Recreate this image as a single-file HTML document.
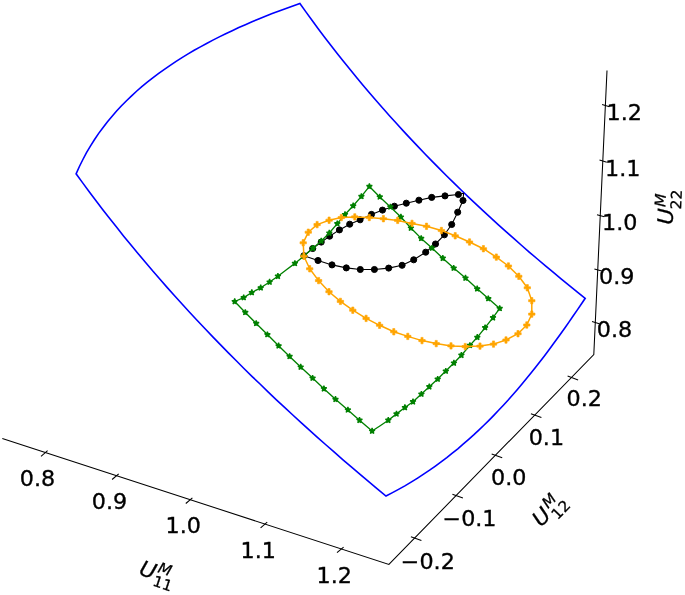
<!DOCTYPE html>
<html><head><meta charset="utf-8"><title>plot</title>
<style>html,body{margin:0;padding:0;background:#fff}svg{display:block}</style></head>
<body>
<svg width="685" height="595" viewBox="0 0 685 595">
<defs>
<path id="st" d="M0.00,-3.00 L-0.67,-0.93 L-2.85,-0.93 L-1.09,0.35 L-1.76,2.43 L-0.00,1.15 L1.76,2.43 L1.09,0.35 L2.85,-0.93 L0.67,-0.93Z" fill="#008000" stroke="#008000" stroke-width="1.3" stroke-linejoin="bevel"/>
<path id="pl" d="M-1.07,-3.20 L1.07,-3.20 L1.07,-1.07 L3.20,-1.07 L3.20,1.07 L1.07,1.07 L1.07,3.20 L-1.07,3.20 L-1.07,1.07 L-3.20,1.07 L-3.20,-1.07 L-1.07,-1.07Z" fill="#ffa500" stroke="#ffa500" stroke-width="0.6" stroke-linejoin="miter"/>
<circle id="ci" r="3.05" fill="#000" stroke="#000" stroke-width="1"/>
</defs>
<rect width="685" height="595" fill="#fff"/>
<g stroke="#000" stroke-width="1.05" fill="none" stroke-linecap="butt">
<polyline points="2.3,438.5 388.9,564.4 593.8,354.5 607.0,70.6"/>
<line x1="41.0" y1="456.3" x2="47.6" y2="450.7"/>
<line x1="112.1" y1="479.5" x2="118.7" y2="473.8"/>
<line x1="185.8" y1="503.5" x2="192.4" y2="497.8"/>
<line x1="260.6" y1="527.9" x2="267.2" y2="522.2"/>
<line x1="337.0" y1="552.7" x2="343.6" y2="547.1"/>
<line x1="410.9" y1="536.7" x2="421.4" y2="540.5"/>
<line x1="452.4" y1="494.2" x2="462.9" y2="498.0"/>
<line x1="491.7" y1="453.9" x2="502.2" y2="457.7"/>
<line x1="530.9" y1="413.7" x2="541.4" y2="417.5"/>
<line x1="567.6" y1="376.1" x2="578.1" y2="379.9"/>
<line x1="592.0" y1="321.6" x2="599.3" y2="323.7"/>
<line x1="594.4" y1="269.0" x2="601.7" y2="271.1"/>
<line x1="597.0" y1="214.7" x2="604.3" y2="216.8"/>
<line x1="599.5" y1="160.1" x2="606.8" y2="162.2"/>
<line x1="602.1" y1="104.6" x2="609.4" y2="106.7"/>
</g>
<g font-family="'DejaVu Sans', 'Liberation Sans', sans-serif" font-size="21.20" fill="#000" stroke="#000" stroke-width="0.32" text-anchor="middle">
<text transform="translate(37.5,478.0) scale(1.050,1)" x="0" y="7.73">0.8</text>
<text transform="translate(109.5,501.6) scale(1.050,1)" x="0" y="7.73">0.9</text>
<text transform="translate(183.3,525.5) scale(1.050,1)" x="0" y="7.73">1.0</text>
<text transform="translate(258.2,550.1) scale(1.050,1)" x="0" y="7.73">1.1</text>
<text transform="translate(334.2,575.5) scale(1.050,1)" x="0" y="7.73">1.2</text>
<text transform="translate(427.8,561.7) scale(1.050,1)" x="0" y="7.73">−0.2</text>
<text transform="translate(469.5,517.9) scale(1.050,1)" x="0" y="7.73">−0.1</text>
<text transform="translate(508.7,477.5) scale(1.050,1)" x="0" y="7.73">0.0</text>
<text transform="translate(546.4,437.1) scale(1.050,1)" x="0" y="7.73">0.1</text>
<text transform="translate(584.2,398.4) scale(1.050,1)" x="0" y="7.73">0.2</text>
<text transform="translate(614.5,329.6) scale(1.050,1)" x="0" y="7.73">0.8</text>
<text transform="translate(616.7,275.9) scale(1.050,1)" x="0" y="7.73">0.9</text>
<text transform="translate(619.8,222.4) scale(1.050,1)" x="0" y="7.73">1.0</text>
<text transform="translate(622.7,168.3) scale(1.050,1)" x="0" y="7.73">1.1</text>
<text transform="translate(624.2,112.2) scale(1.050,1)" x="0" y="7.73">1.2</text>
</g>
<g transform="translate(157.0,574.5) rotate(18.2) scale(1.050,1)" font-family="'DejaVu Sans', 'Liberation Sans', sans-serif" fill="#000" stroke="#000" stroke-width="0.26"><text x="-17.20" y="5.60" font-size="21.20" font-style="italic">U</text><text x="-0.68" y="-2.53" font-size="14.84" font-style="italic">M</text><text x="-1.58" y="11.96" font-size="14.84">11</text></g>
<g transform="translate(550.3,510.2) rotate(-45.8) scale(1.050,1)" font-family="'DejaVu Sans', 'Liberation Sans', sans-serif" fill="#000" stroke="#000" stroke-width="0.26"><text x="-18.20" y="5.60" font-size="21.20" font-style="italic">U</text><text x="-0.68" y="-2.53" font-size="14.84" font-style="italic">M</text><text x="-2.18" y="12.36" font-size="14.84">12</text></g>
<g transform="translate(667.7,206.7) rotate(-87.2) scale(1.050,1)" font-family="'DejaVu Sans', 'Liberation Sans', sans-serif" fill="#000" stroke="#000" stroke-width="0.26"><text x="-17.20" y="5.60" font-size="21.20" font-style="italic">U</text><text x="-0.68" y="-2.53" font-size="14.84" font-style="italic">M</text><text x="-2.18" y="13.36" font-size="14.84">22</text></g>
<polygon points="76.1,173.8 79.4,166.5 82.9,159.5 86.5,152.7 90.4,146.1 94.4,139.8 98.5,133.6 102.9,127.7 107.3,121.9 111.9,116.4 116.6,111.0 121.5,105.8 126.5,100.7 131.6,95.8 136.8,91.0 142.1,86.4 147.6,81.9 153.1,77.6 158.7,73.4 164.4,69.3 170.2,65.3 176.1,61.4 182.0,57.6 188.1,53.9 194.2,50.3 200.4,46.9 206.6,43.5 212.9,40.1 219.3,36.9 225.7,33.7 232.2,30.7 238.8,27.6 245.4,24.7 252.0,21.8 258.7,19.0 265.4,16.3 272.2,13.6 279.1,11.0 286.0,8.4 292.9,5.9 299.9,3.5 305.9,11.9 312.0,20.3 318.2,28.7 324.4,36.9 330.6,45.1 337.0,53.2 343.4,61.3 349.9,69.3 356.4,77.3 363.0,85.2 369.6,93.0 376.3,100.8 383.1,108.5 389.9,116.2 396.8,123.8 403.7,131.4 410.7,138.9 417.8,146.4 424.8,153.8 432.0,161.1 439.2,168.4 446.5,175.7 453.8,182.9 461.1,190.0 468.5,197.1 476.0,204.2 483.5,211.2 491.1,218.1 498.7,225.1 506.3,231.9 514.0,238.7 521.7,245.5 529.5,252.3 537.4,259.0 545.2,265.6 553.1,272.2 561.1,278.8 569.1,285.3 577.1,291.8 585.2,298.3 581.2,304.2 577.2,310.1 573.1,316.0 569.1,321.9 565.0,327.7 560.9,333.5 556.7,339.3 552.5,345.0 548.3,350.7 544.0,356.4 539.7,362.0 535.4,367.6 531.0,373.1 526.5,378.6 522.0,384.0 517.4,389.4 512.8,394.7 508.2,400.0 503.4,405.2 498.6,410.3 493.8,415.4 488.9,420.4 483.9,425.3 478.8,430.1 473.7,434.9 468.4,439.6 463.1,444.2 457.8,448.8 452.3,453.2 446.8,457.6 441.1,461.9 435.4,466.1 429.6,470.2 423.6,474.2 417.6,478.1 411.5,481.9 405.3,485.6 399.0,489.1 392.5,492.6 386.0,496.0 377.3,488.8 368.7,481.6 360.1,474.4 351.6,467.1 343.0,459.8 334.6,452.4 326.1,445.0 317.7,437.6 309.4,430.1 301.1,422.6 292.8,415.0 284.6,407.4 276.4,399.8 268.3,392.1 260.3,384.3 252.2,376.6 244.2,368.7 236.3,360.8 228.4,352.9 220.6,344.9 212.8,336.9 205.1,328.8 197.5,320.7 189.8,312.5 182.3,304.3 174.8,296.0 167.3,287.6 160.0,279.2 152.6,270.8 145.4,262.2 138.2,253.7 131.0,245.0 123.9,236.4 116.9,227.6 109.9,218.8 103.0,209.9 96.2,201.0 89.4,192.0 82.7,182.9 76.1,173.8" fill="none" stroke="#0000ff" stroke-width="1.60" stroke-linejoin="miter"/>
<polyline points="303.9,255.7 312.7,248.5 321.2,242.1 329.6,236.2 339.4,229.9 349.7,224.2 360.1,219.8 371.5,214.4 382.5,210.1 394.4,206.2 406.3,203.2 418.9,200.2 431.7,197.4 445.0,195.9 458.4,194.5 463.6,193.3 463.0,200.5 457.7,212.2 451.7,224.5 444.4,234.8 435.5,244.0 425.7,252.2 413.7,259.8 402.1,265.3 388.7,268.1 374.4,269.5 360.3,269.5 346.3,267.9 332.0,264.9 318.0,260.5 303.9,255.7" fill="none" stroke="#000" stroke-width="1.10" stroke-linejoin="round"/>
<g><use href="#ci" x="303.9" y="255.7"/><use href="#ci" x="312.7" y="248.5"/><use href="#ci" x="321.2" y="242.1"/><use href="#ci" x="329.6" y="236.2"/><use href="#ci" x="339.4" y="229.9"/><use href="#ci" x="349.7" y="224.2"/><use href="#ci" x="360.1" y="219.8"/><use href="#ci" x="371.5" y="214.4"/><use href="#ci" x="382.5" y="210.1"/><use href="#ci" x="394.4" y="206.2"/><use href="#ci" x="406.3" y="203.2"/><use href="#ci" x="418.9" y="200.2"/><use href="#ci" x="431.7" y="197.4"/><use href="#ci" x="445.0" y="195.9"/><use href="#ci" x="458.4" y="194.5"/><use href="#ci" x="463.0" y="200.5"/><use href="#ci" x="457.7" y="212.2"/><use href="#ci" x="451.7" y="224.5"/><use href="#ci" x="444.4" y="234.8"/><use href="#ci" x="435.5" y="244.0"/><use href="#ci" x="425.7" y="252.2"/><use href="#ci" x="413.7" y="259.8"/><use href="#ci" x="402.1" y="265.3"/><use href="#ci" x="388.7" y="268.1"/><use href="#ci" x="374.4" y="269.5"/><use href="#ci" x="360.3" y="269.5"/><use href="#ci" x="346.3" y="267.9"/><use href="#ci" x="332.0" y="264.9"/><use href="#ci" x="318.0" y="260.5"/></g>
<polyline points="234.7,301.5 243.7,297.6 251.8,292.5 260.7,287.8 269.6,282.0 277.9,276.2 286.4,269.8 294.9,263.4 303.9,255.9 312.9,248.2 321.3,241.0 329.3,233.0 337.3,223.6 345.0,214.5 353.2,205.8 361.4,196.4 369.4,186.4 379.8,196.9 390.4,206.9 400.9,217.0 410.9,228.0 421.2,238.4 432.0,248.1 442.8,258.2 453.7,268.1 465.5,278.0 477.2,288.8 488.3,298.6 499.7,308.4 493.0,317.7 485.1,327.6 477.3,337.3 469.9,345.4 461.4,355.2 453.9,363.0 445.8,371.1 437.7,379.1 429.3,386.7 421.4,394.1 413.0,401.7 404.9,407.5 396.5,413.9 388.3,420.2 380.2,425.7 372.1,431.0 359.5,420.2 347.9,409.9 335.5,399.3 323.9,388.7 312.6,378.1 300.7,367.0 289.6,356.4 278.6,345.8 267.4,334.6 256.2,323.4 245.3,312.4 234.7,301.5" fill="none" stroke="#008000" stroke-width="1.35" stroke-linejoin="round"/>
<g><use href="#st" x="234.7" y="301.5"/><use href="#st" x="243.7" y="297.6"/><use href="#st" x="251.8" y="292.5"/><use href="#st" x="260.7" y="287.8"/><use href="#st" x="269.6" y="282.0"/><use href="#st" x="277.9" y="276.2"/><use href="#st" x="294.9" y="263.4"/><use href="#st" x="303.9" y="255.9"/><use href="#st" x="312.9" y="248.2"/><use href="#st" x="321.3" y="241.0"/><use href="#st" x="329.3" y="233.0"/><use href="#st" x="337.3" y="223.6"/><use href="#st" x="345.0" y="214.5"/><use href="#st" x="353.2" y="205.8"/><use href="#st" x="361.4" y="196.4"/><use href="#st" x="369.4" y="186.4"/><use href="#st" x="379.8" y="196.9"/><use href="#st" x="390.4" y="206.9"/><use href="#st" x="400.9" y="217.0"/><use href="#st" x="410.9" y="228.0"/><use href="#st" x="421.2" y="238.4"/><use href="#st" x="432.0" y="248.1"/><use href="#st" x="442.8" y="258.2"/><use href="#st" x="453.7" y="268.1"/><use href="#st" x="465.5" y="278.0"/><use href="#st" x="477.2" y="288.8"/><use href="#st" x="488.3" y="298.6"/><use href="#st" x="499.7" y="308.4"/><use href="#st" x="493.0" y="317.7"/><use href="#st" x="485.1" y="327.6"/><use href="#st" x="477.3" y="337.3"/><use href="#st" x="469.9" y="345.4"/><use href="#st" x="461.4" y="355.2"/><use href="#st" x="453.9" y="363.0"/><use href="#st" x="445.8" y="371.1"/><use href="#st" x="437.7" y="379.1"/><use href="#st" x="429.3" y="386.7"/><use href="#st" x="421.4" y="394.1"/><use href="#st" x="413.0" y="401.7"/><use href="#st" x="404.9" y="407.5"/><use href="#st" x="396.5" y="413.9"/><use href="#st" x="388.3" y="420.2"/><use href="#st" x="372.1" y="431.0"/><use href="#st" x="359.5" y="420.2"/><use href="#st" x="347.9" y="409.9"/><use href="#st" x="335.5" y="399.3"/><use href="#st" x="323.9" y="388.7"/><use href="#st" x="312.6" y="378.1"/><use href="#st" x="300.7" y="367.0"/><use href="#st" x="289.6" y="356.4"/><use href="#st" x="278.6" y="345.8"/><use href="#st" x="267.4" y="334.6"/><use href="#st" x="256.2" y="323.4"/><use href="#st" x="245.3" y="312.4"/></g>
<polyline points="303.9,256.2 303.2,242.8 308.3,232.2 317.1,224.6 329.1,220.2 341.3,217.6 354.8,216.9 369.3,217.5 383.4,218.7 397.7,220.4 412.0,223.4 426.5,226.3 441.4,230.5 455.2,235.8 469.5,242.0 483.4,248.7 496.3,257.1 508.4,266.0 518.8,276.3 527.3,287.8 531.8,300.7 531.8,314.1 526.8,325.0 518.0,333.7 506.0,340.0 493.5,344.1 480.0,346.1 465.2,346.6 451.0,345.9 436.2,343.6 422.0,340.6 407.8,336.4 393.8,331.8 379.6,325.3 366.1,318.4 352.8,310.2 340.4,301.4 329.0,291.7 318.6,280.6 309.7,268.8 303.9,256.2" fill="none" stroke="#ffa500" stroke-width="1.50" stroke-linejoin="round"/>
<g><use href="#pl" x="303.9" y="256.2"/><use href="#pl" x="303.2" y="242.8"/><use href="#pl" x="308.3" y="232.2"/><use href="#pl" x="317.1" y="224.6"/><use href="#pl" x="329.1" y="220.2"/><use href="#pl" x="341.3" y="217.6"/><use href="#pl" x="354.8" y="216.9"/><use href="#pl" x="369.3" y="217.5"/><use href="#pl" x="383.4" y="218.7"/><use href="#pl" x="397.7" y="220.4"/><use href="#pl" x="412.0" y="223.4"/><use href="#pl" x="426.5" y="226.3"/><use href="#pl" x="441.4" y="230.5"/><use href="#pl" x="455.2" y="235.8"/><use href="#pl" x="469.5" y="242.0"/><use href="#pl" x="483.4" y="248.7"/><use href="#pl" x="496.3" y="257.1"/><use href="#pl" x="508.4" y="266.0"/><use href="#pl" x="518.8" y="276.3"/><use href="#pl" x="527.3" y="287.8"/><use href="#pl" x="531.8" y="300.7"/><use href="#pl" x="531.8" y="314.1"/><use href="#pl" x="526.8" y="325.0"/><use href="#pl" x="518.0" y="333.7"/><use href="#pl" x="506.0" y="340.0"/><use href="#pl" x="493.5" y="344.1"/><use href="#pl" x="480.0" y="346.1"/><use href="#pl" x="465.2" y="346.6"/><use href="#pl" x="451.0" y="345.9"/><use href="#pl" x="436.2" y="343.6"/><use href="#pl" x="422.0" y="340.6"/><use href="#pl" x="407.8" y="336.4"/><use href="#pl" x="393.8" y="331.8"/><use href="#pl" x="379.6" y="325.3"/><use href="#pl" x="366.1" y="318.4"/><use href="#pl" x="352.8" y="310.2"/><use href="#pl" x="340.4" y="301.4"/><use href="#pl" x="329.0" y="291.7"/><use href="#pl" x="318.6" y="280.6"/><use href="#pl" x="309.7" y="268.8"/></g>
</svg>
</body></html>
